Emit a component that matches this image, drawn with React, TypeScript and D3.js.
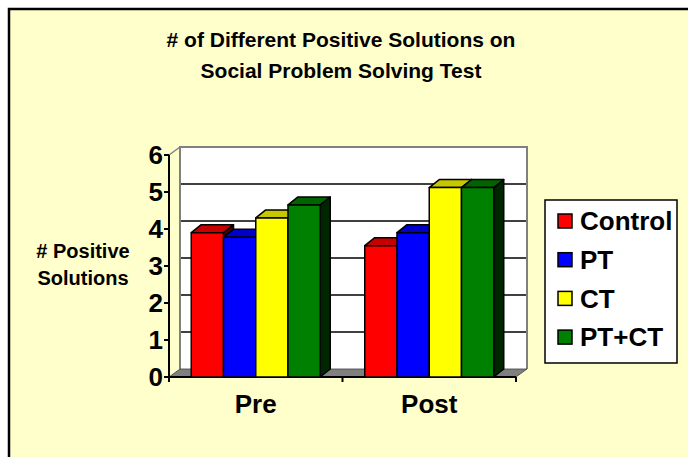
import React from "react";
import * as d3 from "d3";

const titleLines = ["# of Different Positive Solutions on", "Social Problem Solving Test"];
const yLabelLines = ["# Positive", "Solutions"];
const categories = ["Pre", "Post"];
const series = ["Control", "PT", "CT", "PT+CT"];
const controlValues = [3.9, 3.55];
const ptValues = [3.78, 3.9];
const ctValues = [4.3, 5.12];
const ptctValues = [4.65, 5.12];
const yTicks = [0, 1, 2, 3, 4, 5, 6];
const colors = ["#FF0000", "#0000FF", "#FFFF00", "#008000"];

const valuesBySeries = [controlValues, ptValues, ctValues, ptctValues];

const font = "'Liberation Sans', Arial, sans-serif";

export default function App() {
  const width = 688;
  const height = 457;

  // plot geometry (front plane)
  const x0 = 169;
  const x1 = 516;
  const yBottom = 377;
  const yTop = 155;
  const wallDx = 11;
  const wallDy = -8;
  const barDx = 10;
  const barDy = -8;

  const yScale = d3.scaleLinear().domain([0, 6]).range([yBottom, yTop]);
  const xScale = d3.scaleBand<string>().domain(categories).range([x0, x1]).padding(0);
  const inner = d3
    .scaleBand<string>()
    .domain(series)
    .range([0, xScale.bandwidth()])
    .paddingInner(0)
    .paddingOuter(0.69);

  const bars: { x: number; y: number; w: number; h: number; color: string; key: string }[] = [];
  categories.forEach((c, ci) => {
    series.forEach((s, si) => {
      const v = valuesBySeries[si][ci];
      bars.push({
        key: c + s,
        x: (xScale(c) ?? 0) + (inner(s) ?? 0),
        y: yScale(v),
        w: inner.bandwidth(),
        h: yBottom - yScale(v),
        color: colors[si],
      });
    });
  });

  const shade = (c: string, k: number) => {
    const col = d3.rgb(c);
    return d3.rgb(col.r * k, col.g * k, col.b * k).formatHex();
  };

  const wallLeft = x0 + wallDx;
  const wallRight = x1 + wallDx;
  const wallTop = yTop + wallDy;
  const wallBottom = yBottom + wallDy;

  return (
    <svg width={width} height={height} style={{ position: "absolute", left: 0, top: 0 }}>
      <rect x={0} y={0} width={width} height={height} fill="#FFFFFF" />
      <rect x={9} y={9} width={width + 20} height={height + 20} fill="#FFFFCC" stroke="#000" strokeWidth={2.5} />

      {/* title */}
      {titleLines.map((t, i) => (
        <text
          key={t}
          x={341}
          y={47 + i * 31}
          textAnchor="middle"
          fontFamily={font}
          fontWeight="bold"
          fontSize={21}
        >
          {t}
        </text>
      ))}

      {/* back wall */}
      <rect x={wallLeft} y={wallTop} width={wallRight - wallLeft} height={wallBottom - wallTop} fill="#FFFFFF" />
      {yTicks.slice(1, -1).map((t) => (
        <line
          key={"g" + t}
          x1={wallLeft}
          x2={wallRight}
          y1={yScale(t) + wallDy}
          y2={yScale(t) + wallDy}
          stroke="#000"
          strokeWidth={1.5}
        />
      ))}
      <path
        d={`M${wallLeft},${wallBottom}V${wallTop}H${wallRight}V${wallBottom}`}
        fill="none"
        stroke="#808080"
        strokeWidth={2}
      />
      <line x1={x0} y1={yTop} x2={wallLeft} y2={wallTop} stroke="#808080" strokeWidth={1.5} />

      {/* floor */}
      <path
        d={`M${x0},${yBottom}L${wallLeft},${wallBottom}H${wallRight}L${x1},${yBottom}Z`}
        fill="#808080"
        stroke="#404040"
        strokeWidth={0.8}
      />

      {/* axes */}
      <line x1={x0} y1={yTop} x2={x0} y2={yBottom} stroke="#000" strokeWidth={2} />
      <line x1={x0 - 5} y1={yBottom} x2={x1} y2={yBottom} stroke="#000" strokeWidth={2} />
      {yTicks.map((t) => (
        <g key={"t" + t}>
          <line x1={x0 - 5} x2={x0} y1={yScale(t)} y2={yScale(t)} stroke="#000" strokeWidth={2} />
          <text
            x={x0 - 6}
            y={yScale(t)}
            dy="0.36em"
            textAnchor="end"
            fontFamily={font}
            fontWeight="bold"
            fontSize={26}
          >
            {t}
          </text>
        </g>
      ))}
      {[x0, x0 + xScale.step(), x1].map((x, i) => (
        <line key={"xt" + i} x1={x} x2={x} y1={yBottom} y2={yBottom + 5} stroke="#000" strokeWidth={2} />
      ))}

      {/* bars */}
      {bars.map((b) => (
        <g key={b.key} stroke="#000" strokeWidth={1.5} strokeLinejoin="round">
          <path
            d={`M${b.x + b.w},${b.y + b.h}L${b.x + b.w + barDx},${b.y + b.h + barDy}V${b.y + barDy}L${b.x + b.w},${b.y}Z`}
            fill={shade(b.color, 0.3)}
          />
          <path
            d={`M${b.x},${b.y}L${b.x + barDx},${b.y + barDy}H${b.x + b.w + barDx}L${b.x + b.w},${b.y}Z`}
            fill={shade(b.color, 0.78)}
          />
          <rect x={b.x} y={b.y} width={b.w} height={b.h} fill={b.color} />
        </g>
      ))}

      {/* category labels */}
      {categories.map((c) => (
        <text
          key={c}
          x={(xScale(c) ?? 0) + xScale.bandwidth() / 2}
          y={413}
          textAnchor="middle"
          fontFamily={font}
          fontWeight="bold"
          fontSize={26}
        >
          {c}
        </text>
      ))}

      {/* y axis title */}
      {yLabelLines.map((t, i) => (
        <text
          key={t}
          x={83}
          y={258 + i * 27}
          textAnchor="middle"
          fontFamily={font}
          fontWeight="bold"
          fontSize={20}
        >
          {t}
        </text>
      ))}

      {/* legend */}
      <rect x={545} y={200} width={132} height={163} fill="#FFFFFF" stroke="#000" strokeWidth={1.5} />
      {series.map((s, i) => {
        const cy = 221 + i * 38.7;
        return (
          <g key={s}>
            <rect x={558} y={cy - 7} width={14} height={14} fill={colors[i]} stroke="#000" strokeWidth={1.5} />
            <text
              x={580}
              y={cy}
              dy="0.36em"
              fontFamily={font}
              fontWeight="bold"
              fontSize={26}
            >
              {s}
            </text>
          </g>
        );
      })}
    </svg>
  );
}
